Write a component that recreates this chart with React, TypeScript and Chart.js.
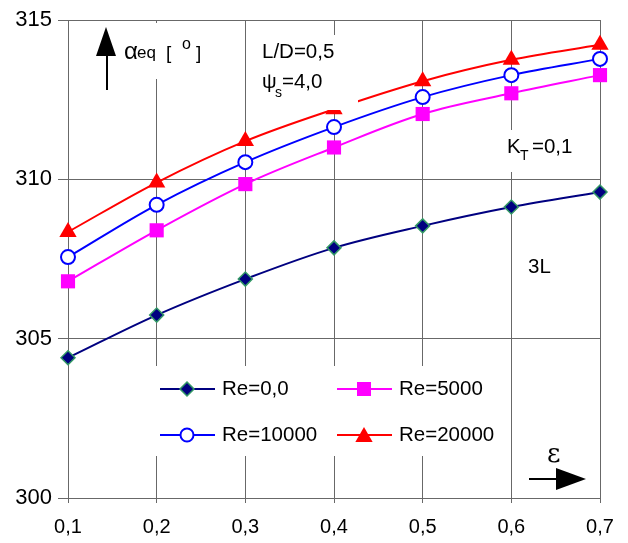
import React, { useEffect, useRef } from 'react';
import { Chart, registerables } from 'chart.js';

Chart.register(...registerables);

const categories = ['0,1', '0,2', '0,3', '0,4', '0,5', '0,6', '0,7'];
const re0 = [304.4, 305.74, 306.87, 307.85, 308.54, 309.13, 309.6];
const re5000 = [306.8, 308.4, 309.85, 311.0, 312.05, 312.7, 313.27];
const re10000 = [307.56, 309.2, 310.54, 311.64, 312.58, 313.27, 313.78];
const re20000 = [308.35, 309.9, 311.2, 312.2, 313.08, 313.75, 314.22];
const legendLabels = ['Re=0,0', 'Re=5000', 'Re=10000', 'Re=20000'];

const FONT = '"Liberation Sans", Arial, sans-serif';
const GRID = '#686868';

function drawMarker(ctx: CanvasRenderingContext2D, kind: string, x: number, y: number) {
  ctx.save();
  ctx.beginPath();
  if (kind === 'diamond') {
    const r = 7;
    ctx.moveTo(x, y - r); ctx.lineTo(x + r, y); ctx.lineTo(x, y + r); ctx.lineTo(x - r, y); ctx.closePath();
    ctx.fillStyle = '#000080'; ctx.fill(); ctx.strokeStyle = '#339966'; ctx.lineWidth = 1.5; ctx.stroke();
  } else if (kind === 'square') {
    const s = 7;
    ctx.rect(x - s, y - s, 2 * s, 2 * s);
    ctx.fillStyle = '#FF00FF'; ctx.fill();
  } else if (kind === 'circle') {
    ctx.arc(x, y, 6.5, 0, Math.PI * 2);
    ctx.fillStyle = '#fff'; ctx.fill(); ctx.strokeStyle = '#0000FF'; ctx.lineWidth = 2; ctx.stroke();
  } else {
    const r = 10;
    ctx.moveTo(x, y - r); ctx.lineTo(x + r * 0.866, y + r / 2); ctx.lineTo(x - r * 0.866, y + r / 2); ctx.closePath();
    ctx.fillStyle = '#FF0000'; ctx.fill();
  }
  ctx.restore();
}

const overlay = {
  id: 'overlay',
  afterDatasetsDraw(chart: any) {
    const ctx: CanvasRenderingContext2D = chart.ctx;
    ctx.save();
    // white text boxes (as in the original spreadsheet chart)
    ctx.fillStyle = '#ffffff';
    ctx.fillRect(90, 23, 125, 56);
    ctx.fillRect(247, 35, 111, 75);
    ctx.fillRect(498, 130, 94, 42);
    ctx.fillRect(148, 366, 357, 90);

    ctx.fillStyle = '#000';
    ctx.strokeStyle = '#000';
    ctx.textBaseline = 'alphabetic';
    ctx.textAlign = 'left';

    // y-axis arrow
    ctx.lineWidth = 2;
    ctx.beginPath(); ctx.moveTo(107, 90); ctx.lineTo(107, 54); ctx.stroke();
    ctx.beginPath(); ctx.moveTo(106, 27); ctx.lineTo(116, 56); ctx.lineTo(96, 56); ctx.closePath(); ctx.fill();

    ctx.font = `24px ${FONT}`;
    ctx.fillText('α', 124, 59);
    ctx.font = `17px ${FONT}`;
    ctx.fillText('eq', 137, 58);
    ctx.font = `19px ${FONT}`;
    ctx.fillText('[', 166, 59);
    ctx.font = `16px ${FONT}`;
    ctx.fillText('o', 182, 49);
    ctx.font = `19px ${FONT}`;
    ctx.fillText(']', 196, 59);

    ctx.font = `20.5px ${FONT}`;
    ctx.fillText('L/D=0,5', 262, 58);
    ctx.fillText('ψ', 262, 88);
    ctx.font = `14px ${FONT}`;
    ctx.fillText('s', 275, 97);
    ctx.font = `20.5px ${FONT}`;
    ctx.fillText('=4,0', 282, 88);

    ctx.fillText('K', 507, 153);
    ctx.font = `14px ${FONT}`;
    ctx.fillText('T', 520, 160);
    ctx.font = `20.5px ${FONT}`;
    ctx.fillText('=0,1', 532, 153);

    ctx.fillText('3L', 528, 273);

    // x-axis arrow
    ctx.font = `26px "DejaVu Serif", serif`;
    ctx.fillText('ε', 547, 462);
    ctx.lineWidth = 2;
    ctx.beginPath(); ctx.moveTo(529, 479); ctx.lineTo(558, 479); ctx.stroke();
    ctx.beginPath(); ctx.moveTo(586, 479); ctx.lineTo(556, 468); ctx.lineTo(556, 490); ctx.closePath(); ctx.fill();

    // legend
    const kinds = ['diamond', 'square', 'circle', 'triangle'];
    const colors = ['#000080', '#FF00FF', '#0000FF', '#FF0000'];
    const cols = [160, 337];
    const rows = [389, 435];
    for (let i = 0; i < 4; i++) {
      const cx = cols[i % 2];
      const cy = rows[Math.floor(i / 2)];
      ctx.strokeStyle = colors[i];
      ctx.lineWidth = 2;
      ctx.beginPath(); ctx.moveTo(cx, cy); ctx.lineTo(cx + 55, cy); ctx.stroke();
      drawMarker(ctx, kinds[i], cx + 27, kinds[i] === 'triangle' ? cy + 2 : cy);
      ctx.fillStyle = '#000';
      ctx.font = `20.5px ${FONT}`;
      ctx.textBaseline = 'middle';
      ctx.fillText(legendLabels[i], cx + 62, cy);
      ctx.textBaseline = 'alphabetic';
    }
    ctx.restore();
  },
};

export default function App() {
  const ref = useRef<HTMLCanvasElement>(null);
  useEffect(() => {
    if (!ref.current) return;
    const chart = new Chart(ref.current, {
      type: 'line',
      data: {
        labels: categories,
        datasets: [
          {
            label: legendLabels[0], data: re0, borderColor: '#000080', borderWidth: 2,
            pointStyle: 'rectRot', pointRadius: 7, pointBackgroundColor: '#000080',
            pointBorderColor: '#339966', pointBorderWidth: 1.5, tension: 0.35,
          },
          {
            label: legendLabels[1], data: re5000, borderColor: '#FF00FF', borderWidth: 2,
            pointStyle: 'rect', pointRadius: 10, pointBackgroundColor: '#FF00FF',
            pointBorderColor: '#FF00FF', pointBorderWidth: 0, tension: 0.35,
          },
          {
            label: legendLabels[2], data: re10000, borderColor: '#0000FF', borderWidth: 2,
            pointStyle: 'circle', pointRadius: 7, pointBackgroundColor: '#ffffff',
            pointBorderColor: '#0000FF', pointBorderWidth: 2, tension: 0.35,
          },
          {
            label: legendLabels[3], data: re20000, borderColor: '#FF0000', borderWidth: 2,
            pointStyle: 'triangle', pointRadius: 10, pointBackgroundColor: '#FF0000',
            pointBorderColor: '#FF0000', pointBorderWidth: 0, tension: 0.35,
          },
        ],
      },
      options: {
        responsive: false,
        animation: false,
        clip: false as any,
        layout: { padding: { top: 20, right: 28, left: 0, bottom: 0 } },
        plugins: { legend: { display: false }, tooltip: { enabled: false } },
        scales: {
          x: {
            type: 'category',
            offset: false,
            grid: { color: GRID, lineWidth: 1, tickLength: 5, offset: false },
            border: { color: GRID },
            ticks: { color: '#000', font: { family: FONT, size: 20 }, padding: 12, maxRotation: 0, autoSkip: false },
            afterFit: (s: any) => { s.height = 45; },
          },
          y: {
            min: 300,
            max: 315,
            grid: { color: GRID, lineWidth: 1, tickLength: 10 },
            border: { color: GRID },
            ticks: { stepSize: 5, color: '#000', font: { family: FONT, size: 22 }, padding: 6 },
            afterFit: (s: any) => { s.width = 68; },
          },
        },
      },
      plugins: [overlay],
    });
    return () => chart.destroy();
  }, []);
  return (
    <div style={{ position: 'fixed', left: 0, top: 0, width: 628, height: 543, background: '#fff' }}>
      <canvas ref={ref} width={628} height={543} />
    </div>
  );
}
